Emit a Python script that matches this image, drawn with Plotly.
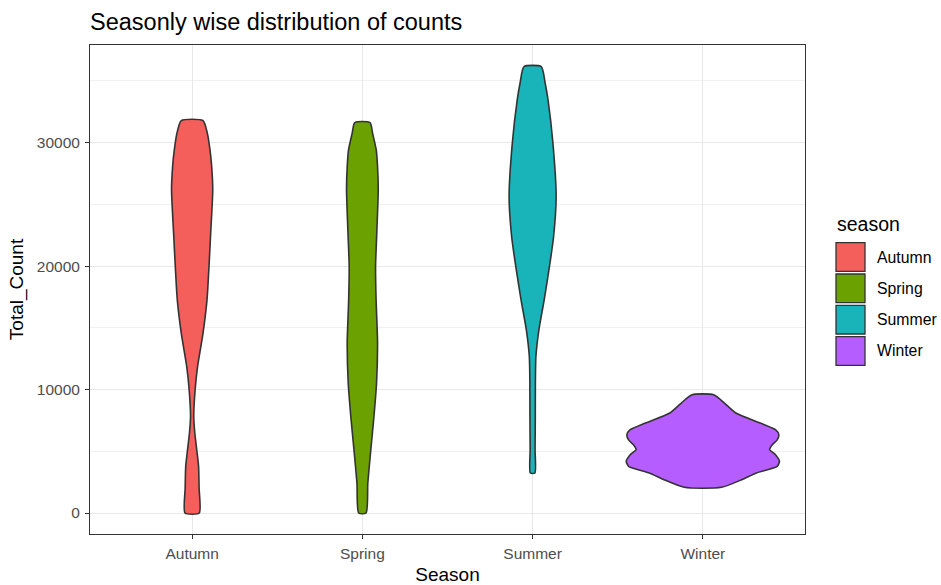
import plotly.graph_objects as go

# ---------------- data ----------------
seasons = ["Autumn", "Spring", "Summer", "Winter"]
colors = ["#F45F5B", "#6BA100", "#19B4B9", "#B55DFF"]

# violin density profiles: y levels (Total_Count) and relative density (1 = widest violin)
autumn_y = [0, 2000, 3770, 4860, 6480, 7820, 9980, 11870, 14570, 17270, 19970, 22670, 26180, 28060, 29410, 30770, 31790]
autumn_d = [0.093, 0.091, 0.084, 0.065, 0.035, 0.021, 0.039, 0.071, 0.142, 0.194, 0.220, 0.242, 0.269, 0.255, 0.233, 0.198, 0.142]

spring_y = [0, 2430, 5130, 7820, 10550, 13780, 17270, 19970, 22690, 26180, 28060, 29410, 30770, 31630]
spring_d = [0.048, 0.071, 0.110, 0.151, 0.185, 0.198, 0.179, 0.172, 0.188, 0.207, 0.198, 0.181, 0.133, 0.100]

summer_y = [3240, 5130, 7820, 10520, 12680, 14840, 17270, 19970, 22400, 25640, 29960, 33470, 34810, 36160]
summer_d = [0.030, 0.032, 0.035, 0.036, 0.043, 0.082, 0.151, 0.220, 0.274, 0.307, 0.265, 0.201, 0.164, 0.113]

winter_y = [2080, 2700, 3240, 3780, 4180, 4720, 5130, 5530, 5930, 6340, 6750, 7290, 8100, 8910, 9580]
winter_d = [0.243, 0.508, 0.699, 0.970, 1.000, 0.948, 0.871, 0.906, 0.970, 0.992, 0.948, 0.750, 0.431, 0.281, 0.142]

profiles = [(autumn_y, autumn_d), (spring_y, spring_d), (summer_y, summer_d), (winter_y, winter_d)]

y_ticks = [0, 10000, 20000, 30000]

# ---------------- figure ----------------
W, H = 941, 585
ML, MR, MT, MB = 90, 136, 45, 51
HALF = 0.45  # violin half-width (ggplot width 0.9)

fig = go.Figure()
for i, (name, col, (ys, ds)) in enumerate(zip(seasons, colors, profiles)):
    c = i + 1
    xs = [c + HALF * d for d in ds] + [c - HALF * d for d in reversed(ds)]
    yy = list(ys) + list(reversed(ys))
    xs.append(xs[0]); yy.append(yy[0])
    fig.add_trace(go.Scatter(
        x=xs, y=yy, mode="lines", fill="toself", fillcolor=col,
        line=dict(color="#333333", width=1.6, shape="spline", smoothing=0.6),
        name=name, showlegend=False, hoverinfo="name",
    ))

FONT = "Liberation Sans, Arial, sans-serif"

fig.update_layout(
    width=W, height=H, autosize=False,
    margin=dict(l=ML, r=MR, t=MT, b=MB, autoexpand=False),
    paper_bgcolor="white", plot_bgcolor="white",
    font=dict(family=FONT, color="#000000"),
    title=dict(text="Seasonly wise distribution of counts", x=ML / W, xanchor="left",
               xref="container", y=1 - 22 / H, yanchor="middle", yref="container",
               font=dict(size=23.5, color="#000000")),
    xaxis=dict(
        range=[0.4, 4.6], tickvals=[1, 2, 3, 4], ticktext=seasons, automargin=False,
        showgrid=True, gridcolor="#E8E8E8", gridwidth=1.4, zeroline=False,
        showline=True, linecolor="#333333", linewidth=1, mirror=True,
        ticks="outside", ticklen=4, tickcolor="#333333", tickwidth=1,
        ticklabelstandoff=1,
        tickfont=dict(size=15.5, color="#4D4D4D"),
        title=dict(text="Season", font=dict(size=19, color="#000000"), standoff=9),
    ),
    yaxis=dict(
        range=[-1700, 37910], tickvals=y_ticks, ticktext=[str(v) for v in y_ticks], automargin=False,
        showgrid=True, gridcolor="#E8E8E8", gridwidth=1.4, zeroline=False,
        showline=True, linecolor="#333333", linewidth=1, mirror=True,
        ticks="outside", ticklen=4, tickcolor="#333333", tickwidth=1,
        ticklabelstandoff=2,
        tickfont=dict(size=15.5, color="#4D4D4D"),
        minor=dict(dtick=5000, tick0=5000, showgrid=True, gridcolor="#F0F0F0", gridwidth=0.9, ticks=""),
        title=dict(text="Total_Count", font=dict(size=19, color="#000000"), standoff=8),
    ),
)

# ---------------- manual ggplot-style legend ----------------
PW = W - ML - MR
PH = H - MT - MB

def px(xp):
    return (xp - ML) / PW

def py(yp):
    return (H - MB - yp) / PH

fig.add_annotation(text="season", xref="paper", yref="paper", x=px(835), y=py(224),
                   xanchor="left", yanchor="middle", showarrow=False,
                   font=dict(size=19.5, color="#000000"))
for i, (name, col) in enumerate(zip(seasons, colors)):
    top = 242.7 + i * 31.3
    bot = top + 28.7
    fig.add_shape(type="rect", xref="paper", yref="paper",
                  x0=px(836), x1=px(865), y0=py(bot), y1=py(top),
                  fillcolor=col, line=dict(color="#333333", width=1.3))
    fig.add_annotation(text=name, xref="paper", yref="paper", x=px(875), y=py((top + bot) / 2),
                       xanchor="left", yanchor="middle", showarrow=False,
                       font=dict(size=15.8, color="#000000"))

fig.write_html("out.html", config={"displayModeBar": False},
               post_script="document.body.style.margin='0';document.body.style.padding='0';")
